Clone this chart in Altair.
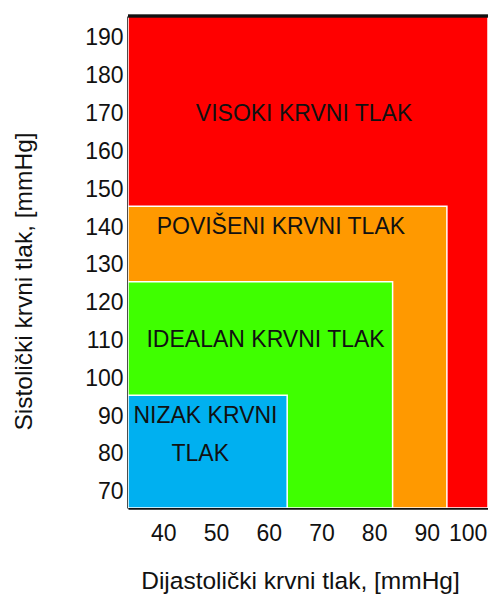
import altair as alt
import pandas as pd

# Zones (drawn from back to front)
zones = ["VISOKI KRVNI TLAK", "POVIŠENI KRVNI TLAK", "IDEALAN KRVNI TLAK", "NIZAK KRVNI TLAK"]
zone_x_upper = [101.6, 93.8, 83.5, 63.5]
zone_y_upper = [195.8, 145.5, 125.5, 95.5]
zone_colors = ["#FF0000", "#FF9900", "#3FFF00", "#00B0F0"]

# Region labels
label_text = ["VISOKI KRVNI TLAK", "POVIŠENI KRVNI TLAK", "IDEALAN KRVNI TLAK", "NIZAK KRVNI", "TLAK"]
label_x = [66.7, 62.3, 59.4, 48.0, 47.0]
label_y = [170, 140, 110, 90, 80]

x_ticks = [40, 50, 60, 70, 80, 90, 100]
y_ticks = [70, 80, 90, 100, 110, 120, 130, 140, 150, 160, 170, 180, 190]

X_MIN, X_MAX = 33.3, 101.6
Y_MIN, Y_MAX = 65.7, 195.8

FONT = "Liberation Sans"
W, H = 360, 492

zones_df = pd.DataFrame({
    "zone": zones,
    "x0": [X_MIN] * len(zones),
    "x1": zone_x_upper,
    "y0": [Y_MIN] * len(zones),
    "y1": zone_y_upper,
    "order": list(range(len(zones))),
})
labels_df = pd.DataFrame({"text": label_text, "x": label_x, "y": label_y})

x_scale = alt.Scale(domain=[X_MIN, X_MAX], nice=False, zero=False)
y_scale = alt.Scale(domain=[Y_MIN, Y_MAX], nice=False, zero=False)

x_axis = alt.Axis(
    values=x_ticks, ticks=False, grid=False, labelFontSize=23, labelFont=FONT,
    labelColor="#111", labelPadding=14,
    labelOffset=alt.expr("datum.value == 100 ? -12 : 0"),
    title="Dijastolički krvni tlak, [mmHg]", titleFont=FONT, titleFontSize=24.5,
    titleFontWeight="normal", titleColor="#111",
    titleX=172, titleY=73, titleAlign="center", titleBaseline="middle",
    domainColor="#111", domainWidth=2.5,
)
y_axis = alt.Axis(
    values=y_ticks, ticks=False, grid=False, labelFontSize=23, labelFont=FONT,
    labelColor="#111", labelPadding=5,
    title="Sistolički krvni tlak, [mmHg]", titleFont=FONT, titleFontSize=24.5,
    titleFontWeight="normal", titleColor="#111",
    titleX=-104, titleY=265, titleAlign="center", titleBaseline="middle", titleAngle=270,
    domainColor="#111", domainWidth=2.5,
)

rects = alt.Chart(zones_df).mark_rect(stroke="white", strokeWidth=1.5, clip=True).encode(
    x=alt.X("x0:Q", scale=x_scale, axis=x_axis),
    x2="x1:Q",
    y=alt.Y("y0:Q", scale=y_scale, axis=y_axis),
    y2="y1:Q",
    color=alt.Color("zone:N", scale=alt.Scale(domain=zones, range=zone_colors), legend=None),
    order=alt.Order("order:Q"),
)

top_rule = alt.Chart(zones_df).mark_rule(color="#111", strokeWidth=2.5).encode(
    x=alt.value(0), x2=alt.value(W), y=alt.value(0)
)

texts = alt.Chart(labels_df).mark_text(
    font=FONT, fontSize=23, color="#111", align="center", baseline="middle"
).encode(
    x=alt.X("x:Q", scale=x_scale),
    y=alt.Y("y:Q", scale=y_scale),
    text="text:N",
)

chart = alt.layer(rects, top_rule, texts).properties(
    width=W, height=H,
    padding={"left": 120, "top": 8, "right": 0, "bottom": 88},
    autosize=alt.AutoSizeParams(type="none"),
).configure_view(stroke=None)

chart.save("out.html", embed_options={"renderer": "svg", "actions": False})
